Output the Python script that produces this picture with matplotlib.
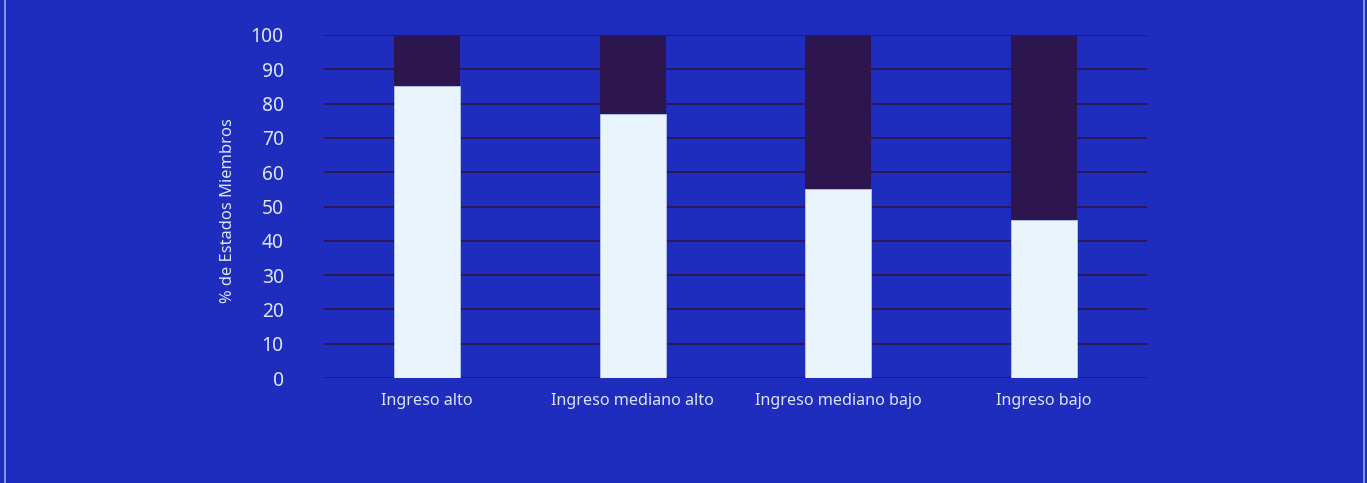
import matplotlib
matplotlib.use("Agg")
import matplotlib.pyplot as plt
import numpy as np

categories = ["Ingreso alto", "Ingreso mediano alto", "Ingreso mediano bajo", "Ingreso bajo"]
si_values = [85, 77, 55, 46]
no_values = [15, 23, 45, 54]
yticks = [0, 10, 20, 30, 40, 50, 60, 70, 80, 90, 100]

BG = "#1e2dbe"
DARK = "#2d1650"
LIGHT = "#eaf4fd"
TXT = "#dde6f8"

plt.rcParams['font.family'] = ['Noto Sans', 'DejaVu Sans']

fig = plt.figure(figsize=(13.67, 4.83), dpi=100, facecolor=BG)
ax = fig.add_axes([324/1367, 1 - 378/483, 823/1367, (378-35)/483])
ax.set_facecolor(BG)

x = np.arange(len(categories))
w = 0.32
ax.bar(x, si_values, width=w, color=LIGHT, zorder=3, edgecolor="#b8c4f0", linewidth=0.6)
ax.bar(x, no_values, bottom=si_values, width=w, color=DARK, zorder=3, linewidth=0)

ax.set_xlim(-0.5, len(categories) - 0.5)
ax.set_ylim(0, 100)
ax.set_yticks(yticks)
ax.set_xticks(x)
ax.set_xticklabels(categories)
ax.yaxis.grid(True, color=DARK, linewidth=1.3, zorder=1)
ax.set_axisbelow(True)
for s in ax.spines.values():
    s.set_visible(False)
ax.tick_params(axis='y', length=0, pad=29, labelsize=13.8, labelcolor=TXT)
ax.tick_params(axis='x', length=0, pad=11, labelsize=11.6, labelcolor=TXT)
ax.set_ylabel("% de Estados Miembros", color=TXT, fontsize=11.9)
ax.yaxis.set_label_coords(-0.107, 0.488)

# light frame lines at left and right edges
fig.add_artist(plt.Line2D([4.5/1367, 4.5/1367], [0, 1], color="#9fa6f0", linewidth=1.2, transform=fig.transFigure))
fig.add_artist(plt.Line2D([1363.5/1367, 1363.5/1367], [0, 1], color="#9fa6f0", linewidth=1.2, transform=fig.transFigure))

fig.savefig("out.png", dpi=100, facecolor=BG)
